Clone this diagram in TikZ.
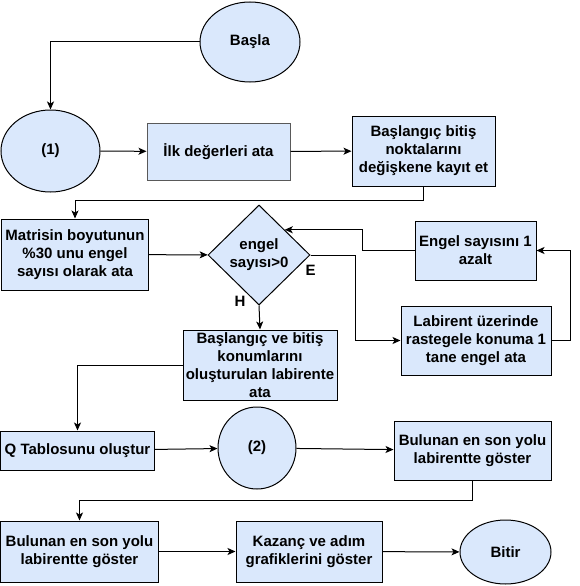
\documentclass[tikz,border=0pt]{standalone}
\usepackage{fontspec}
\setmainfont{Liberation Sans}
\usetikzlibrary{shapes.geometric}
\usetikzlibrary{arrows.meta}
\definecolor{mavi}{HTML}{DAE8FC}

\begin{document}
\begin{tikzpicture}[x=1pt, y=-1pt,
        every node/.style={font=\bfseries\fontsize{15}{18}\selectfont, align=center, inner sep=0pt},
        kutu/.style={draw=black, fill=mavi, line width=1pt, rectangle},
        yuvarlak/.style={draw=black, fill=mavi, line width=1pt, ellipse},
        karar/.style={draw=black, fill=mavi, line width=1pt, diamond, inner sep=-4pt},
        ok/.style={-{Stealth[length=8pt, width=7pt, inset=2pt]}, line width=1pt}]
        \useasboundingbox (0,0) rectangle (579,586);

        \node[yuvarlak, minimum width=100, minimum height=80] (basla) at (250,42) {Başla};
        \node[yuvarlak, minimum width=99, minimum height=82] (bir) at (50.5,151) {(1)};
        \node[kutu, draw=black!65, minimum width=143, minimum height=57] (ilk) at (218.5,151.5) {İlk değerleri ata};
        \node[kutu, minimum width=143, minimum height=70] (kayit) at (423.5,151) {Başlangıç bitiş\\noktalarını\\değişkene kayıt et};
        \node[kutu, minimum width=147, minimum height=71] (matris) at (75,254.5) {Matrisin boyutunun\\\%30 unu engel\\sayısı olarak ata};
        \node[karar, minimum width=102, minimum height=100] (kosul) at (259,255) {engel\\sayısı>0};
        \node[kutu, minimum width=121, minimum height=59] (azalt) at (475.5,250.5) {Engel sayısını 1\\azalt};
        \node[kutu, minimum width=150, minimum height=69] (engel) at (476,340.5) {Labirent üzerinde\\rastegele konuma 1\\tane engel ata};
        \node[kutu, minimum width=154, minimum height=70] (konum) at (260,365) {Başlangıç ve bitiş\\konumlarını\\oluşturulan labirente\\ata};
        \node[kutu, minimum width=154, minimum height=39] (qtablo) at (77.5,450.5) {Q Tablosunu oluştur};
        \node[yuvarlak, minimum width=78, minimum height=82] (iki) at (257,448) {(2)};
        \node[kutu, minimum width=157, minimum height=59] (yolbir) at (472.5,450.5) {Bulunan en son yolu\\labirentte göster};
        \node[kutu, minimum width=158, minimum height=61] (yoliki) at (79.5,551.5) {Bulunan en son yolu\\labirentte göster};
        \node[kutu, minimum width=146, minimum height=61] (grafik) at (309,551.5) {Kazanç ve adım\\grafiklerini göster};
        \node[yuvarlak, minimum width=91, minimum height=64] (bitir) at (505.5,552) {Bitir};

        \node (evet) at (310.5,270) {E};
        \node (hayir) at (240,301) {H};

        \foreach \a/\b in {bir/ilk, ilk/kayit, matris/kosul, qtablo/iki, iki/yolbir, yoliki/grafik, grafik/bitir} {
                \draw[ok] (\a) -- (\b);
            }
        \draw[ok] (basla.west) -| (bir.north);
        \draw[ok] (kayit.south) -- ++(0,14) -| (matris.north);
        \draw[ok] (kosul.east) -- ++(45,0) |- (engel.west);
        \draw[ok] (engel.east) -- ++(19,0) |- (azalt.east);
        \draw[ok] (azalt.west) -- ++(-52,0) |- (kosul.north east);
        \draw[ok] (kosul.south) -- (konum.north);
        \draw[ok] (konum.west) -| (qtablo.north);
        \draw[ok] (yolbir.south) -- ++(0,20) -| (yoliki.north);
    \end{tikzpicture}
\end{document}
